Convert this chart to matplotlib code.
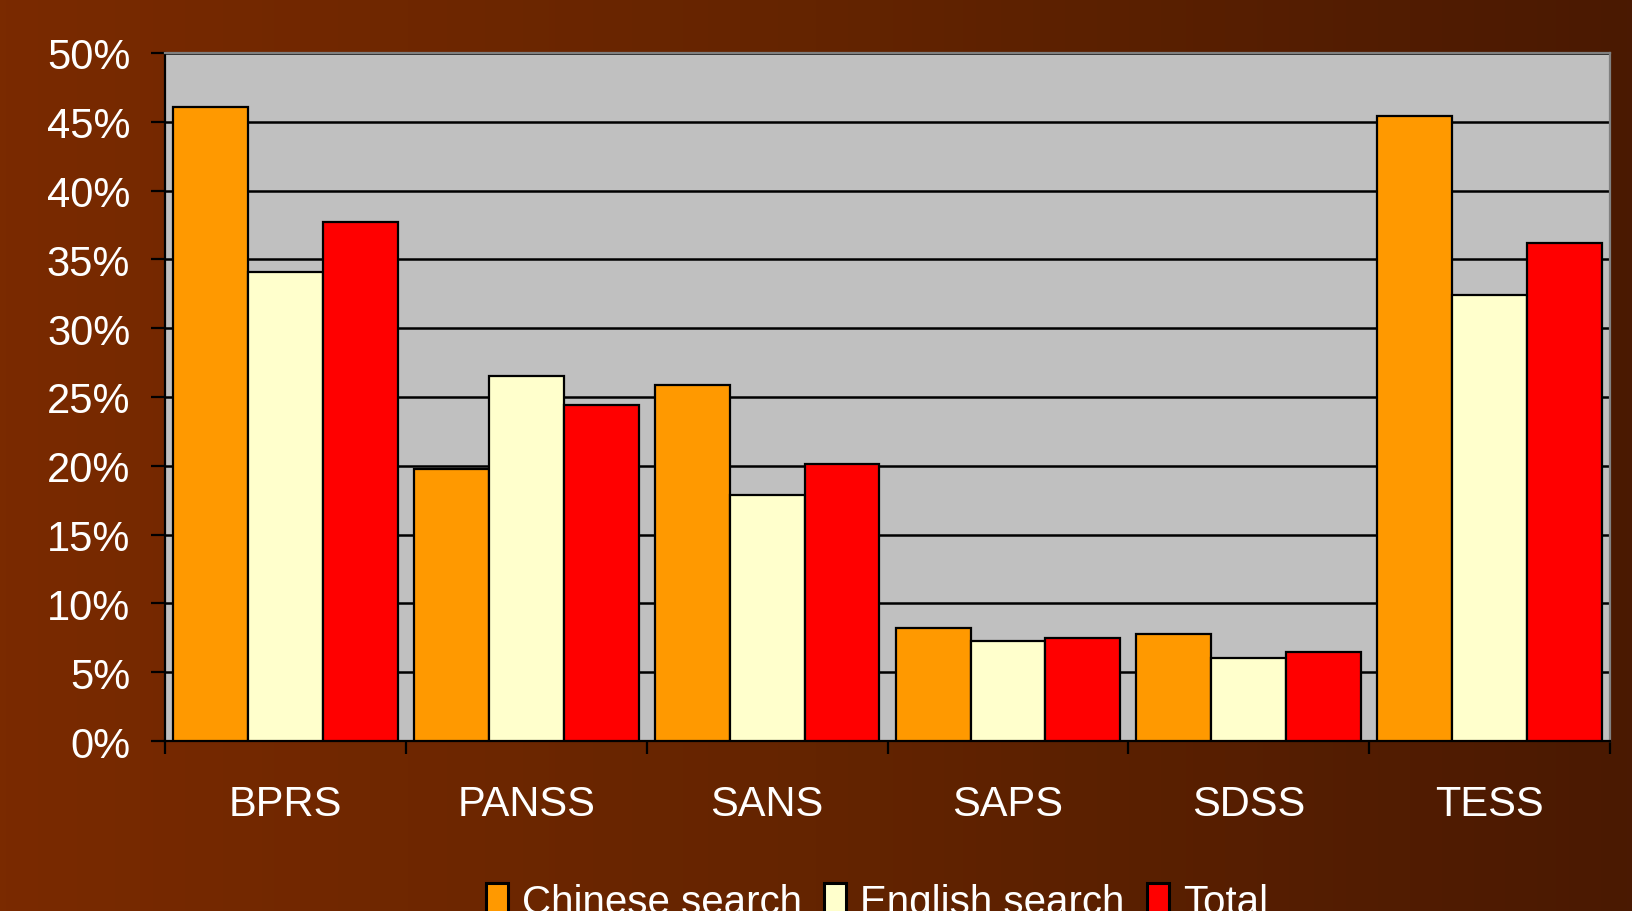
import numpy as np
import matplotlib
matplotlib.use('Agg')
import matplotlib.pyplot as plt
from matplotlib.colors import LinearSegmentedColormap

plt.rcParams['font.family'] = ['Liberation Sans', 'DejaVu Sans']

categories = ['BPRS', 'PANSS', 'SANS', 'SAPS', 'SDSS', 'TESS']
chinese_search = [46.1, 19.8, 25.9, 8.2, 7.8, 45.4]
english_search = [34.1, 26.5, 17.9, 7.3, 6.0, 32.4]
total = [37.7, 24.4, 20.1, 7.5, 6.5, 36.2]
series_names = ['Chinese search', 'English search', 'Total']
y_ticks = [0, 5, 10, 15, 20, 25, 30, 35, 40, 45, 50]

fig = plt.figure(figsize=(16.33, 9.12), dpi=100)

# background gradient
bg = fig.add_axes([0, 0, 1, 1], zorder=-10)
grad_cmap = LinearSegmentedColormap.from_list('bg', ['#7a2a00', '#642400', '#4a1902'])
bg.imshow(np.linspace(0, 1, 256).reshape(1, -1), cmap=grad_cmap, aspect='auto',
          extent=[0, 1, 0, 1])
bg.axis('off')

ax = fig.add_axes([0.101, 0.1864, 0.885, 0.7544])
ax.set_facecolor('#c0c0c0')

x = np.arange(len(categories))
w = 0.311
colors = ['#ff9900', '#ffffcc', '#ff0000']
for i, (vals, name) in enumerate(zip([chinese_search, english_search, total], series_names)):
    ax.bar(x + (i - 1) * w, vals, width=w, color=colors[i], edgecolor='black',
           linewidth=1.6, label=name, zorder=3)

ax.set_xlim(-0.5, len(categories) - 0.5)
ax.set_ylim(0, 50)
ax.set_yticks(y_ticks)
ax.set_yticklabels([f'{v}%' for v in y_ticks])
ax.yaxis.grid(True, color='black', linewidth=1.8, zorder=1)
ax.set_axisbelow(True)

# category ticks at the group boundaries, labels in the middle
ax.set_xticks(np.arange(len(categories) + 1) - 0.5)
ax.set_xticklabels([])
ax.set_xticks(x, minor=True)
ax.set_xticklabels(categories, minor=True)
ax.tick_params(axis='x', which='major', direction='out', length=9.5, width=1.6,
               color='black')
ax.tick_params(axis='x', which='minor', length=0, pad=31, labelsize=30,
               labelcolor='white')
ax.tick_params(axis='y', direction='out', length=10, width=1.6, pad=15,
               labelsize=30, labelcolor='white', color='black')

for side in ['left', 'bottom']:
    ax.spines[side].set_color('black')
    ax.spines[side].set_linewidth(1.6)
for side in ['top', 'right']:
    ax.spines[side].set_color('#808080')
    ax.spines[side].set_linewidth(1.6)

leg = fig.legend(loc='center', bbox_to_anchor=(0.537, 0.010), ncol=3,
                 frameon=False, fontsize=29, labelcolor='white',
                 handlelength=0.55, handleheight=0.85, handletextpad=0.35,
                 columnspacing=0.55)
for h in leg.legend_handles:
    h.set_linewidth(2.2)

plt.savefig('out.png', dpi=100)
